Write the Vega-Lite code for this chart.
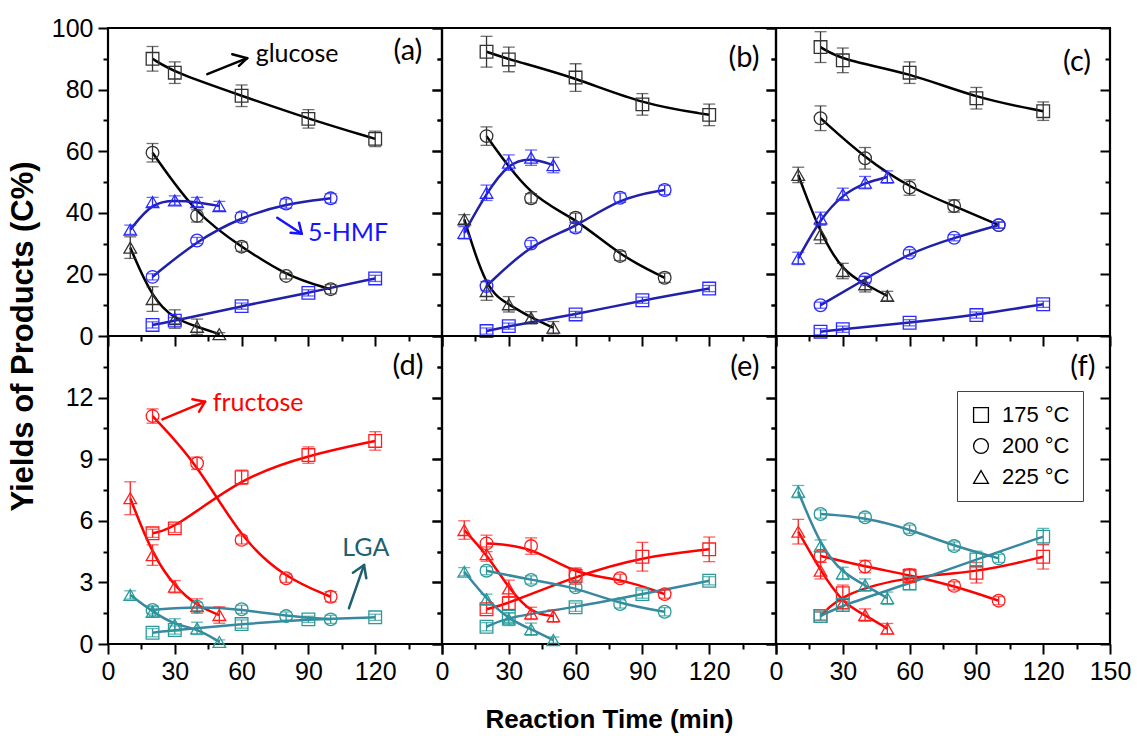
{
 "$schema": "https://vega.github.io/schema/vega-lite/v6.json",
 "padding": {"left": 6, "top": 14, "right": 5, "bottom": 5},
 "background": "white",
 "datasets": {
  "pts": [
   {"p":"a","s":"glucose","t":175,"x":20,"y":90,"e":4},{"p":"a","s":"glucose","t":175,"x":30,"y":85.5,"e":3.5},{"p":"a","s":"glucose","t":175,"x":60,"y":78,"e":3.5},{"p":"a","s":"glucose","t":175,"x":90,"y":70.5,"e":3},{"p":"a","s":"glucose","t":175,"x":120,"y":64,"e":2.5},
   {"p":"a","s":"glucose","t":200,"x":20,"y":59.5,"e":3},{"p":"a","s":"glucose","t":200,"x":40,"y":39,"e":2},{"p":"a","s":"glucose","t":200,"x":60,"y":29,"e":1.5},{"p":"a","s":"glucose","t":200,"x":80,"y":19.5,"e":1},{"p":"a","s":"glucose","t":200,"x":100,"y":15.2,"e":1.5},
   {"p":"a","s":"glucose","t":225,"x":10,"y":28.7,"e":3.5},{"p":"a","s":"glucose","t":225,"x":20,"y":12,"e":4},{"p":"a","s":"glucose","t":225,"x":30,"y":5.5,"e":3},{"p":"a","s":"glucose","t":225,"x":40,"y":3,"e":2.5},{"p":"a","s":"glucose","t":225,"x":50,"y":0.6,"e":0.5},
   {"p":"a","s":"HMF","t":225,"x":10,"y":34.5,"e":1.5},{"p":"a","s":"HMF","t":225,"x":20,"y":43.5,"e":1.5},{"p":"a","s":"HMF","t":225,"x":30,"y":44,"e":1.5},{"p":"a","s":"HMF","t":225,"x":40,"y":43.5,"e":1.5},{"p":"a","s":"HMF","t":225,"x":50,"y":42.2,"e":1.5},
   {"p":"a","s":"HMF","t":200,"x":20,"y":19.2,"e":1},{"p":"a","s":"HMF","t":200,"x":40,"y":31,"e":1},{"p":"a","s":"HMF","t":200,"x":60,"y":38.6,"e":1.5},{"p":"a","s":"HMF","t":200,"x":80,"y":43,"e":1.5},{"p":"a","s":"HMF","t":200,"x":100,"y":44.7,"e":1.5},
   {"p":"a","s":"HMF","t":175,"x":20,"y":3.6,"e":1},{"p":"a","s":"HMF","t":175,"x":30,"y":5,"e":1},{"p":"a","s":"HMF","t":175,"x":60,"y":9.7,"e":1},{"p":"a","s":"HMF","t":175,"x":90,"y":14,"e":1},{"p":"a","s":"HMF","t":175,"x":120,"y":18.7,"e":1},

   {"p":"b","s":"glucose","t":175,"x":20,"y":92.3,"e":5},{"p":"b","s":"glucose","t":175,"x":30,"y":89.8,"e":4},{"p":"b","s":"glucose","t":175,"x":60,"y":83.9,"e":4.5},{"p":"b","s":"glucose","t":175,"x":90,"y":75.2,"e":3.5},{"p":"b","s":"glucose","t":175,"x":120,"y":71.8,"e":3.5},
   {"p":"b","s":"glucose","t":200,"x":20,"y":64.9,"e":3},{"p":"b","s":"glucose","t":200,"x":40,"y":44.7,"e":1.5},{"p":"b","s":"glucose","t":200,"x":60,"y":38.4,"e":1.5},{"p":"b","s":"glucose","t":200,"x":80,"y":26,"e":1.5},{"p":"b","s":"glucose","t":200,"x":100,"y":18.9,"e":1.5},
   {"p":"b","s":"glucose","t":225,"x":10,"y":37.9,"e":1.5},{"p":"b","s":"glucose","t":225,"x":20,"y":14.6,"e":3},{"p":"b","s":"glucose","t":225,"x":30,"y":10.3,"e":2.5},{"p":"b","s":"glucose","t":225,"x":40,"y":5.9,"e":2},{"p":"b","s":"glucose","t":225,"x":50,"y":2.7,"e":2},
   {"p":"b","s":"HMF","t":225,"x":10,"y":33.5,"e":2},{"p":"b","s":"HMF","t":225,"x":20,"y":46.5,"e":2.5},{"p":"b","s":"HMF","t":225,"x":30,"y":56.3,"e":2.5},{"p":"b","s":"HMF","t":225,"x":40,"y":57.9,"e":2.5},{"p":"b","s":"HMF","t":225,"x":50,"y":55.5,"e":2.5},
   {"p":"b","s":"HMF","t":200,"x":20,"y":16.2,"e":1.5},{"p":"b","s":"HMF","t":200,"x":40,"y":30,"e":1},{"p":"b","s":"HMF","t":200,"x":60,"y":35.2,"e":1.5},{"p":"b","s":"HMF","t":200,"x":80,"y":44.9,"e":1.5},{"p":"b","s":"HMF","t":200,"x":100,"y":47.4,"e":1.5},
   {"p":"b","s":"HMF","t":175,"x":20,"y":1.6,"e":1},{"p":"b","s":"HMF","t":175,"x":30,"y":3.2,"e":1},{"p":"b","s":"HMF","t":175,"x":60,"y":7,"e":1},{"p":"b","s":"HMF","t":175,"x":90,"y":11.6,"e":1},{"p":"b","s":"HMF","t":175,"x":120,"y":15.4,"e":1},

   {"p":"c","s":"glucose","t":175,"x":20,"y":93.8,"e":5},{"p":"c","s":"glucose","t":175,"x":30,"y":89.5,"e":4},{"p":"c","s":"glucose","t":175,"x":60,"y":85.5,"e":3.5},{"p":"c","s":"glucose","t":175,"x":90,"y":77.2,"e":3.5},{"p":"c","s":"glucose","t":175,"x":120,"y":73,"e":3},
   {"p":"c","s":"glucose","t":200,"x":20,"y":70.7,"e":4},{"p":"c","s":"glucose","t":200,"x":40,"y":57.7,"e":3.5},{"p":"c","s":"glucose","t":200,"x":60,"y":48.2,"e":2.5},{"p":"c","s":"glucose","t":200,"x":80,"y":42.2,"e":2},{"p":"c","s":"glucose","t":200,"x":100,"y":36,"e":1},
   {"p":"c","s":"glucose","t":225,"x":10,"y":52.3,"e":2.5},{"p":"c","s":"glucose","t":225,"x":20,"y":33,"e":3},{"p":"c","s":"glucose","t":225,"x":30,"y":21.1,"e":2.5},{"p":"c","s":"glucose","t":225,"x":40,"y":16.8,"e":2.5},{"p":"c","s":"glucose","t":225,"x":50,"y":13,"e":1.5},
   {"p":"c","s":"HMF","t":225,"x":10,"y":25.2,"e":2},{"p":"c","s":"HMF","t":225,"x":20,"y":38.2,"e":2},{"p":"c","s":"HMF","t":225,"x":30,"y":46,"e":2},{"p":"c","s":"HMF","t":225,"x":40,"y":49.8,"e":2},{"p":"c","s":"HMF","t":225,"x":50,"y":51.6,"e":2},
   {"p":"c","s":"HMF","t":200,"x":20,"y":10,"e":1},{"p":"c","s":"HMF","t":200,"x":40,"y":18.4,"e":1},{"p":"c","s":"HMF","t":200,"x":60,"y":27,"e":1},{"p":"c","s":"HMF","t":200,"x":80,"y":31.9,"e":1},{"p":"c","s":"HMF","t":200,"x":100,"y":36,"e":1},
   {"p":"c","s":"HMF","t":175,"x":20,"y":1.4,"e":1},{"p":"c","s":"HMF","t":175,"x":30,"y":2.2,"e":1},{"p":"c","s":"HMF","t":175,"x":60,"y":4.3,"e":1},{"p":"c","s":"HMF","t":175,"x":90,"y":6.8,"e":1},{"p":"c","s":"HMF","t":175,"x":120,"y":10.3,"e":1},

   {"p":"d","s":"fructose","t":175,"x":20,"y":5.39,"e":0.2},{"p":"d","s":"fructose","t":175,"x":30,"y":5.63,"e":0.2},{"p":"d","s":"fructose","t":175,"x":60,"y":8.12,"e":0.35},{"p":"d","s":"fructose","t":175,"x":90,"y":9.2,"e":0.4},{"p":"d","s":"fructose","t":175,"x":120,"y":9.89,"e":0.45},
   {"p":"d","s":"fructose","t":200,"x":20,"y":11.1,"e":0.35},{"p":"d","s":"fructose","t":200,"x":40,"y":8.8,"e":0.3},{"p":"d","s":"fructose","t":200,"x":60,"y":5.07,"e":0.2},{"p":"d","s":"fructose","t":200,"x":80,"y":3.2,"e":0.2},{"p":"d","s":"fructose","t":200,"x":100,"y":2.3,"e":0.25},
   {"p":"d","s":"fructose","t":225,"x":10,"y":7.1,"e":0.8},{"p":"d","s":"fructose","t":225,"x":20,"y":4.33,"e":0.5},{"p":"d","s":"fructose","t":225,"x":30,"y":2.79,"e":0.3},{"p":"d","s":"fructose","t":225,"x":40,"y":1.85,"e":0.35},{"p":"d","s":"fructose","t":225,"x":50,"y":1.41,"e":0.4},
   {"p":"d","s":"LGA","t":175,"x":20,"y":0.55,"e":0.2},{"p":"d","s":"LGA","t":175,"x":30,"y":0.68,"e":0.2},{"p":"d","s":"LGA","t":175,"x":60,"y":0.97,"e":0.2},{"p":"d","s":"LGA","t":175,"x":90,"y":1.2,"e":0.15},{"p":"d","s":"LGA","t":175,"x":120,"y":1.3,"e":0.15},
   {"p":"d","s":"LGA","t":200,"x":20,"y":1.66,"e":0.2},{"p":"d","s":"LGA","t":200,"x":40,"y":1.82,"e":0.2},{"p":"d","s":"LGA","t":200,"x":60,"y":1.69,"e":0.2},{"p":"d","s":"LGA","t":200,"x":80,"y":1.36,"e":0.2},{"p":"d","s":"LGA","t":200,"x":100,"y":1.2,"e":0.2},
   {"p":"d","s":"LGA","t":225,"x":10,"y":2.39,"e":0.2},{"p":"d","s":"LGA","t":225,"x":20,"y":1.57,"e":0.25},{"p":"d","s":"LGA","t":225,"x":30,"y":0.93,"e":0.3},{"p":"d","s":"LGA","t":225,"x":40,"y":0.76,"e":0.3},{"p":"d","s":"LGA","t":225,"x":50,"y":0.1,"e":0.1},

   {"p":"e","s":"fructose","t":175,"x":20,"y":1.69,"e":0.2},{"p":"e","s":"fructose","t":175,"x":30,"y":1.98,"e":0.3},{"p":"e","s":"fructose","t":175,"x":60,"y":3.31,"e":0.4},{"p":"e","s":"fructose","t":175,"x":90,"y":4.25,"e":0.7},{"p":"e","s":"fructose","t":175,"x":120,"y":4.61,"e":0.6},
   {"p":"e","s":"fructose","t":200,"x":20,"y":4.9,"e":0.4},{"p":"e","s":"fructose","t":200,"x":40,"y":4.77,"e":0.4},{"p":"e","s":"fructose","t":200,"x":60,"y":3.36,"e":0.3},{"p":"e","s":"fructose","t":200,"x":80,"y":3.2,"e":0.2},{"p":"e","s":"fructose","t":200,"x":100,"y":2.43,"e":0.2},
   {"p":"e","s":"fructose","t":225,"x":10,"y":5.55,"e":0.45},{"p":"e","s":"fructose","t":225,"x":20,"y":4.38,"e":0.35},{"p":"e","s":"fructose","t":225,"x":30,"y":2.71,"e":0.4},{"p":"e","s":"fructose","t":225,"x":40,"y":1.49,"e":0.3},{"p":"e","s":"fructose","t":225,"x":50,"y":1.36,"e":0.3},
   {"p":"e","s":"LGA","t":175,"x":20,"y":0.84,"e":0.2},{"p":"e","s":"LGA","t":175,"x":30,"y":1.33,"e":0.2},{"p":"e","s":"LGA","t":175,"x":60,"y":1.79,"e":0.2},{"p":"e","s":"LGA","t":175,"x":90,"y":2.43,"e":0.2},{"p":"e","s":"LGA","t":175,"x":120,"y":3.08,"e":0.2},
   {"p":"e","s":"LGA","t":200,"x":20,"y":3.57,"e":0.2},{"p":"e","s":"LGA","t":200,"x":40,"y":3.12,"e":0.2},{"p":"e","s":"LGA","t":200,"x":60,"y":2.76,"e":0.2},{"p":"e","s":"LGA","t":200,"x":80,"y":1.95,"e":0.2},{"p":"e","s":"LGA","t":200,"x":100,"y":1.57,"e":0.2},
   {"p":"e","s":"LGA","t":225,"x":10,"y":3.52,"e":0.2},{"p":"e","s":"LGA","t":225,"x":20,"y":2.18,"e":0.25},{"p":"e","s":"LGA","t":225,"x":30,"y":1.2,"e":0.3},{"p":"e","s":"LGA","t":225,"x":40,"y":0.72,"e":0.3},{"p":"e","s":"LGA","t":225,"x":50,"y":0.19,"e":0.15},

   {"p":"f","s":"fructose","t":175,"x":20,"y":1.36,"e":0.2},{"p":"f","s":"fructose","t":175,"x":30,"y":2.47,"e":0.4},{"p":"f","s":"fructose","t":175,"x":60,"y":3.31,"e":0.3},{"p":"f","s":"fructose","t":175,"x":90,"y":3.47,"e":0.5},{"p":"f","s":"fructose","t":175,"x":120,"y":4.25,"e":0.6},
   {"p":"f","s":"fructose","t":200,"x":20,"y":4.29,"e":0.3},{"p":"f","s":"fructose","t":200,"x":40,"y":3.77,"e":0.3},{"p":"f","s":"fructose","t":200,"x":60,"y":3.36,"e":0.3},{"p":"f","s":"fructose","t":200,"x":80,"y":2.83,"e":0.2},{"p":"f","s":"fructose","t":200,"x":100,"y":2.11,"e":0.2},
   {"p":"f","s":"fructose","t":225,"x":10,"y":5.47,"e":0.6},{"p":"f","s":"fructose","t":225,"x":20,"y":3.57,"e":0.4},{"p":"f","s":"fructose","t":225,"x":30,"y":1.98,"e":0.25},{"p":"f","s":"fructose","t":225,"x":40,"y":1.41,"e":0.3},{"p":"f","s":"fructose","t":225,"x":50,"y":0.75,"e":0.25},
   {"p":"f","s":"LGA","t":175,"x":20,"y":1.36,"e":0.2},{"p":"f","s":"LGA","t":175,"x":30,"y":1.9,"e":0.3},{"p":"f","s":"LGA","t":175,"x":60,"y":2.95,"e":0.3},{"p":"f","s":"LGA","t":175,"x":90,"y":4.12,"e":0.4},{"p":"f","s":"LGA","t":175,"x":120,"y":5.23,"e":0.4},
   {"p":"f","s":"LGA","t":200,"x":20,"y":6.33,"e":0.2},{"p":"f","s":"LGA","t":200,"x":40,"y":6.17,"e":0.2},{"p":"f","s":"LGA","t":200,"x":60,"y":5.59,"e":0.2},{"p":"f","s":"LGA","t":200,"x":80,"y":4.77,"e":0.2},{"p":"f","s":"LGA","t":200,"x":100,"y":4.17,"e":0.2},
   {"p":"f","s":"LGA","t":225,"x":10,"y":7.42,"e":0.3},{"p":"f","s":"LGA","t":225,"x":20,"y":4.77,"e":0.3},{"p":"f","s":"LGA","t":225,"x":30,"y":3.44,"e":0.3},{"p":"f","s":"LGA","t":225,"x":40,"y":2.87,"e":0.3},{"p":"f","s":"LGA","t":225,"x":50,"y":2.23,"e":0.3}
  ],
  "notes": [
   {"p":"a","s":"label","x":134.7,"y":92.5,"label":"(a)"},
   {"p":"b","s":"label","x":135.6,"y":90.1,"label":"(b)"},
   {"p":"c","s":"label","x":135.2,"y":89,"label":"(c)"},
   {"p":"d","s":"label","x":134.7,"y":13.54,"label":"(d)"},
   {"p":"e","s":"label","x":136,"y":13.5,"label":"(e)"},
   {"p":"f","s":"label","x":137.8,"y":13.5,"label":"(f)"},
   {"p":"a","s":"glucose-note","x":84.9,"y":91.6,"label":"glucose"},
   {"p":"a","s":"HMF-note","x":107.8,"y":33.4,"label":"5-HMF"},
   {"p":"d","s":"fructose-note","x":67.4,"y":11.74,"label":"fructose"},
   {"p":"d","s":"LGA-note","x":115.8,"y":4.68,"label":"LGA"}
  ],
  "arrows": [
   {"p":"a","s":"glucose-note","x":44.6,"y":85,"x2":62.5,"y2":90.2},
   {"p":"a","s":"glucose-note","x":62.5,"y":90.2,"x2":55.8,"y2":91.5},
   {"p":"a","s":"glucose-note","x":62.5,"y":90.2,"x2":58.8,"y2":87.7},
   {"p":"a","s":"HMF-note","x":76,"y":38.4,"x2":87,"y2":33.2},
   {"p":"a","s":"HMF-note","x":87,"y":33.2,"x2":82,"y2":33.5},
   {"p":"a","s":"HMF-note","x":87,"y":33.2,"x2":85.8,"y2":36.8},
   {"p":"d","s":"fructose-note","x":24.4,"y":10.94,"x2":43.6,"y2":11.8},
   {"p":"d","s":"fructose-note","x":43.6,"y":11.8,"x2":37.9,"y2":11.92},
   {"p":"d","s":"fructose-note","x":43.6,"y":11.8,"x2":40.9,"y2":11.32},
   {"p":"d","s":"LGA-note","x":108.2,"y":1.74,"x2":115,"y2":3.85},
   {"p":"d","s":"LGA-note","x":115,"y":3.85,"x2":110,"y2":3.47},
   {"p":"d","s":"LGA-note","x":115,"y":3.85,"x2":116,"y2":3.2}
  ]
 },
 "columns": 3,
 "spacing": 0,
 "bounds": "flush",
 "concat": [
   {"width":334,"height":308,"resolve":{"axis":{"x":"independent","y":"independent"}},"layer":[
    {"data":{"name":"pts"},"transform":[{"filter":"datum.p=='a'"}],"mark":{"type":"line","interpolate":"basis","strokeWidth":2.5},
     "encoding":{"x":{"field":"x","type":"quantitative","scale":{"domain":[0,150],"nice":false},"axis":{"orient":"bottom","values":[15,45,75,105,135],"tickSize":5,"labels":false,"title":null}},
      "y":{"field":"y","type":"quantitative","scale":{"domain":[0,100],"nice":false},"axis":{"orient":"left","values":[10,30,50,70,90],"tickSize":5,"labels":false,"title":null}},
      "stroke":{"field":"s","type":"nominal","scale":{"domain":["glucose","HMF","fructose","LGA"],"range":["#000000","#2020a8","#ff0000","#3a88a0"]},"legend":null},
      "detail":{"field":"t","type":"nominal"}}},
    {"data":{"name":"pts"},"transform":[{"filter":"datum.p=='a'"}],"mark":{"type":"errorbar","ticks":true,"size":12,"thickness":1.3},
     "encoding":{"x":{"field":"x","type":"quantitative","axis":null},"y":{"field":"y","type":"quantitative","axis":{"orient":"right","values":[0,20,40,60,80,100],"tickSize":-10,"labels":false,"title":null}},"yError":{"field":"e"},
      "color":{"field":"s","type":"nominal","scale":{"domain":["glucose","HMF","fructose","LGA","glucose-note","HMF-note","fructose-note","LGA-note","label"],"range":["#333333","#2a2aff","#ff1f1f","#2a9a9a","#000000","#1515ff","#ff0000","#1f5f6f","#000000"]},"legend":null}}},
    {"data":{"name":"pts"},"transform":[{"filter":"datum.p=='a'"}],"mark":{"type":"point","filled":false,"size":160,"strokeWidth":1.3,"opacity":1},
     "encoding":{"x":{"field":"x","type":"quantitative","axis":{"orient":"bottom","values":[0,30,60,90,120,150],"tickSize":10,"labels":false,"title":null}},
      "y":{"field":"y","type":"quantitative","axis":{"orient":"left","values":[0,20,40,60,80,100],"tickSize":10,"labels":true,"title":"Yields of Products (C%)","titleFontSize":31,"titleAnchor":"start","titleAlign":"center","titlePadding":12}},
      "shape":{"field":"t","type":"nominal","scale":{"domain":[175,200,225],"range":["square","circle","triangle-up"]},"legend":{"orient":"none","legendX":849,"legendY":363,"title":null,"labelExpr":"datum.label + ' °C'"}},
      "color":{"field":"s","type":"nominal","scale":{"domain":["glucose","HMF","fructose","LGA","glucose-note","HMF-note","fructose-note","LGA-note","label"],"range":["#333333","#2a2aff","#ff1f1f","#2a9a9a","#000000","#1515ff","#ff0000","#1f5f6f","#000000"]},"legend":null}}},
    {"data":{"name":"notes"},"transform":[{"filter":"datum.p=='a' && datum.s=='label'"}],"mark":{"type":"text","font":"Lato","fontSize":29,"align":"center","baseline":"middle"},
     "encoding":{"x":{"field":"x","type":"quantitative","axis":null},"y":{"field":"y","type":"quantitative","axis":{"orient":"right","values":[10,30,50,70,90],"tickSize":-5,"labels":false,"title":null}},"text":{"field":"label"},
      "color":{"field":"s","type":"nominal","scale":{"domain":["glucose","HMF","fructose","LGA","glucose-note","HMF-note","fructose-note","LGA-note","label"],"range":["#333333","#2a2aff","#ff1f1f","#2a9a9a","#000000","#1515ff","#ff0000","#1f5f6f","#000000"]},"legend":null}}},
    {"data":{"name":"notes"},"transform":[{"filter":"datum.p=='a' && datum.s!='label'"}],"mark":{"type":"text","font":"Lato","fontSize":25,"align":"center","baseline":"middle"},
     "encoding":{"x":{"field":"x","type":"quantitative","axis":null},"y":{"field":"y","type":"quantitative","axis":null},"text":{"field":"label"},
      "color":{"field":"s","type":"nominal","scale":{"domain":["glucose","HMF","fructose","LGA","glucose-note","HMF-note","fructose-note","LGA-note","label"],"range":["#333333","#2a2aff","#ff1f1f","#2a9a9a","#000000","#1515ff","#ff0000","#1f5f6f","#000000"]},"legend":null}}},
    {"data":{"name":"arrows"},"transform":[{"filter":"datum.p=='a'"}],"mark":{"type":"rule","strokeWidth":2.5,"strokeCap":"round"},
     "encoding":{"x":{"field":"x","type":"quantitative","axis":null},"y":{"field":"y","type":"quantitative","axis":null},"x2":{"field":"x2"},"y2":{"field":"y2"},
      "color":{"field":"s","type":"nominal","scale":{"domain":["glucose","HMF","fructose","LGA","glucose-note","HMF-note","fructose-note","LGA-note","label"],"range":["#333333","#2a2aff","#ff1f1f","#2a9a9a","#000000","#1515ff","#ff0000","#1f5f6f","#000000"]},"legend":null}}}
   ]},
   {"width":334,"height":308,"resolve":{"axis":{"x":"independent","y":"independent"}},"layer":[
    {"data":{"name":"pts"},"transform":[{"filter":"datum.p=='b'"}],"mark":{"type":"line","interpolate":"basis","strokeWidth":2.5},
     "encoding":{"x":{"field":"x","type":"quantitative","scale":{"domain":[0,150],"nice":false},"axis":{"orient":"bottom","values":[15,45,75,105,135],"tickSize":5,"labels":false,"title":null}},
      "y":{"field":"y","type":"quantitative","scale":{"domain":[0,100],"nice":false},"axis":{"orient":"left","values":[10,30,50,70,90],"tickSize":5,"labels":false,"title":null}},
      "stroke":{"field":"s","type":"nominal","scale":{"domain":["glucose","HMF","fructose","LGA"],"range":["#000000","#2020a8","#ff0000","#3a88a0"]},"legend":null},
      "detail":{"field":"t","type":"nominal"}}},
    {"data":{"name":"pts"},"transform":[{"filter":"datum.p=='b'"}],"mark":{"type":"errorbar","ticks":true,"size":12,"thickness":1.3},
     "encoding":{"x":{"field":"x","type":"quantitative","axis":null},"y":{"field":"y","type":"quantitative","axis":{"orient":"right","values":[0,20,40,60,80,100],"tickSize":-10,"labels":false,"title":null}},"yError":{"field":"e"},
      "color":{"field":"s","type":"nominal","scale":{"domain":["glucose","HMF","fructose","LGA","glucose-note","HMF-note","fructose-note","LGA-note","label"],"range":["#333333","#2a2aff","#ff1f1f","#2a9a9a","#000000","#1515ff","#ff0000","#1f5f6f","#000000"]},"legend":null}}},
    {"data":{"name":"pts"},"transform":[{"filter":"datum.p=='b'"}],"mark":{"type":"point","filled":false,"size":160,"strokeWidth":1.3,"opacity":1},
     "encoding":{"x":{"field":"x","type":"quantitative","axis":{"orient":"bottom","values":[0,30,60,90,120,150],"tickSize":10,"labels":false,"title":null}},
      "y":{"field":"y","type":"quantitative","axis":{"orient":"left","values":[0,20,40,60,80,100],"tickSize":10,"labels":false,"title":null}},
      "shape":{"field":"t","type":"nominal","scale":{"domain":[175,200,225],"range":["square","circle","triangle-up"]},"legend":{"orient":"none","legendX":849,"legendY":363,"title":null,"labelExpr":"datum.label + ' °C'"}},
      "color":{"field":"s","type":"nominal","scale":{"domain":["glucose","HMF","fructose","LGA","glucose-note","HMF-note","fructose-note","LGA-note","label"],"range":["#333333","#2a2aff","#ff1f1f","#2a9a9a","#000000","#1515ff","#ff0000","#1f5f6f","#000000"]},"legend":null}}},
    {"data":{"name":"notes"},"transform":[{"filter":"datum.p=='b'"}],"mark":{"type":"text","font":"Lato","fontSize":29,"align":"center","baseline":"middle"},
     "encoding":{"x":{"field":"x","type":"quantitative","axis":null},"y":{"field":"y","type":"quantitative","axis":{"orient":"right","values":[10,30,50,70,90],"tickSize":-5,"labels":false,"title":null}},"text":{"field":"label"},
      "color":{"field":"s","type":"nominal","scale":{"domain":["glucose","HMF","fructose","LGA","glucose-note","HMF-note","fructose-note","LGA-note","label"],"range":["#333333","#2a2aff","#ff1f1f","#2a9a9a","#000000","#1515ff","#ff0000","#1f5f6f","#000000"]},"legend":null}}}
   ]},
   {"width":334,"height":308,"resolve":{"axis":{"x":"independent","y":"independent"}},"layer":[
    {"data":{"name":"pts"},"transform":[{"filter":"datum.p=='c'"}],"mark":{"type":"line","interpolate":"basis","strokeWidth":2.5},
     "encoding":{"x":{"field":"x","type":"quantitative","scale":{"domain":[0,150],"nice":false},"axis":{"orient":"bottom","values":[15,45,75,105,135],"tickSize":5,"labels":false,"title":null}},
      "y":{"field":"y","type":"quantitative","scale":{"domain":[0,100],"nice":false},"axis":{"orient":"left","values":[10,30,50,70,90],"tickSize":5,"labels":false,"title":null}},
      "stroke":{"field":"s","type":"nominal","scale":{"domain":["glucose","HMF","fructose","LGA"],"range":["#000000","#2020a8","#ff0000","#3a88a0"]},"legend":null},
      "detail":{"field":"t","type":"nominal"}}},
    {"data":{"name":"pts"},"transform":[{"filter":"datum.p=='c'"}],"mark":{"type":"errorbar","ticks":true,"size":12,"thickness":1.3},
     "encoding":{"x":{"field":"x","type":"quantitative","axis":null},"y":{"field":"y","type":"quantitative","axis":{"orient":"right","values":[0,20,40,60,80,100],"tickSize":-10,"labels":false,"title":null}},"yError":{"field":"e"},
      "color":{"field":"s","type":"nominal","scale":{"domain":["glucose","HMF","fructose","LGA","glucose-note","HMF-note","fructose-note","LGA-note","label"],"range":["#333333","#2a2aff","#ff1f1f","#2a9a9a","#000000","#1515ff","#ff0000","#1f5f6f","#000000"]},"legend":null}}},
    {"data":{"name":"pts"},"transform":[{"filter":"datum.p=='c'"}],"mark":{"type":"point","filled":false,"size":160,"strokeWidth":1.3,"opacity":1},
     "encoding":{"x":{"field":"x","type":"quantitative","axis":{"orient":"bottom","values":[0,30,60,90,120,150],"tickSize":10,"labels":false,"title":null}},
      "y":{"field":"y","type":"quantitative","axis":{"orient":"left","values":[0,20,40,60,80,100],"tickSize":10,"labels":false,"title":null}},
      "shape":{"field":"t","type":"nominal","scale":{"domain":[175,200,225],"range":["square","circle","triangle-up"]},"legend":{"orient":"none","legendX":849,"legendY":363,"title":null,"labelExpr":"datum.label + ' °C'"}},
      "color":{"field":"s","type":"nominal","scale":{"domain":["glucose","HMF","fructose","LGA","glucose-note","HMF-note","fructose-note","LGA-note","label"],"range":["#333333","#2a2aff","#ff1f1f","#2a9a9a","#000000","#1515ff","#ff0000","#1f5f6f","#000000"]},"legend":null}}},
    {"data":{"name":"notes"},"transform":[{"filter":"datum.p=='c'"}],"mark":{"type":"text","font":"Lato","fontSize":29,"align":"center","baseline":"middle"},
     "encoding":{"x":{"field":"x","type":"quantitative","axis":null},"y":{"field":"y","type":"quantitative","axis":{"orient":"right","values":[10,30,50,70,90],"tickSize":-5,"labels":false,"title":null}},"text":{"field":"label"},
      "color":{"field":"s","type":"nominal","scale":{"domain":["glucose","HMF","fructose","LGA","glucose-note","HMF-note","fructose-note","LGA-note","label"],"range":["#333333","#2a2aff","#ff1f1f","#2a9a9a","#000000","#1515ff","#ff0000","#1f5f6f","#000000"]},"legend":null}}}
   ]},
   {"width":334,"height":308,"resolve":{"axis":{"x":"independent","y":"independent"}},"layer":[
    {"data":{"name":"pts"},"transform":[{"filter":"datum.p=='d'"}],"mark":{"type":"line","interpolate":"basis","strokeWidth":2.5},
     "encoding":{"x":{"field":"x","type":"quantitative","scale":{"domain":[0,150],"nice":false},"axis":{"orient":"bottom","values":[15,45,75,105,135],"tickSize":5,"labels":false,"title":null}},
      "y":{"field":"y","type":"quantitative","scale":{"domain":[0,15],"nice":false},"axis":{"orient":"left","values":[1.5,4.5,7.5,10.5,13.5],"tickSize":5,"labels":false,"title":null}},
      "stroke":{"field":"s","type":"nominal","scale":{"domain":["glucose","HMF","fructose","LGA"],"range":["#000000","#2020a8","#ff0000","#3a88a0"]},"legend":null},
      "detail":{"field":"t","type":"nominal"}}},
    {"data":{"name":"pts"},"transform":[{"filter":"datum.p=='d'"}],"mark":{"type":"errorbar","ticks":true,"size":12,"thickness":1.3},
     "encoding":{"x":{"field":"x","type":"quantitative","axis":null},"y":{"field":"y","type":"quantitative","axis":{"orient":"right","values":[0,3,6,9,12],"tickSize":-10,"labels":false,"title":null}},"yError":{"field":"e"},
      "color":{"field":"s","type":"nominal","scale":{"domain":["glucose","HMF","fructose","LGA","glucose-note","HMF-note","fructose-note","LGA-note","label"],"range":["#333333","#2a2aff","#ff1f1f","#2a9a9a","#000000","#1515ff","#ff0000","#1f5f6f","#000000"]},"legend":null}}},
    {"data":{"name":"pts"},"transform":[{"filter":"datum.p=='d'"}],"mark":{"type":"point","filled":false,"size":160,"strokeWidth":1.3,"opacity":1},
     "encoding":{"x":{"field":"x","type":"quantitative","axis":{"orient":"bottom","values":[0,30,60,90,120,150],"tickSize":10,"labels":true,"labelExpr":"datum.value == 150 ? '' : datum.label","title":null}},
      "y":{"field":"y","type":"quantitative","axis":{"orient":"left","values":[0,3,6,9,12],"tickSize":10,"labels":true,"title":null}},
      "shape":{"field":"t","type":"nominal","scale":{"domain":[175,200,225],"range":["square","circle","triangle-up"]},"legend":{"orient":"none","legendX":849,"legendY":363,"title":null,"labelExpr":"datum.label + ' °C'"}},
      "color":{"field":"s","type":"nominal","scale":{"domain":["glucose","HMF","fructose","LGA","glucose-note","HMF-note","fructose-note","LGA-note","label"],"range":["#333333","#2a2aff","#ff1f1f","#2a9a9a","#000000","#1515ff","#ff0000","#1f5f6f","#000000"]},"legend":null}}},
    {"data":{"name":"notes"},"transform":[{"filter":"datum.p=='d' && datum.s=='label'"}],"mark":{"type":"text","font":"Lato","fontSize":29,"align":"center","baseline":"middle"},
     "encoding":{"x":{"field":"x","type":"quantitative","axis":null},"y":{"field":"y","type":"quantitative","axis":{"orient":"right","values":[1.5,4.5,7.5,10.5,13.5],"tickSize":-5,"labels":false,"title":null}},"text":{"field":"label"},
      "color":{"field":"s","type":"nominal","scale":{"domain":["glucose","HMF","fructose","LGA","glucose-note","HMF-note","fructose-note","LGA-note","label"],"range":["#333333","#2a2aff","#ff1f1f","#2a9a9a","#000000","#1515ff","#ff0000","#1f5f6f","#000000"]},"legend":null}}},
    {"data":{"name":"notes"},"transform":[{"filter":"datum.p=='d' && datum.s!='label'"}],"mark":{"type":"text","font":"Lato","fontSize":25,"align":"center","baseline":"middle"},
     "encoding":{"x":{"field":"x","type":"quantitative","axis":null},"y":{"field":"y","type":"quantitative","axis":null},"text":{"field":"label"},
      "color":{"field":"s","type":"nominal","scale":{"domain":["glucose","HMF","fructose","LGA","glucose-note","HMF-note","fructose-note","LGA-note","label"],"range":["#333333","#2a2aff","#ff1f1f","#2a9a9a","#000000","#1515ff","#ff0000","#1f5f6f","#000000"]},"legend":null}}},
    {"data":{"name":"arrows"},"transform":[{"filter":"datum.p=='d'"}],"mark":{"type":"rule","strokeWidth":2.5,"strokeCap":"round"},
     "encoding":{"x":{"field":"x","type":"quantitative","axis":null},"y":{"field":"y","type":"quantitative","axis":null},"x2":{"field":"x2"},"y2":{"field":"y2"},
      "color":{"field":"s","type":"nominal","scale":{"domain":["glucose","HMF","fructose","LGA","glucose-note","HMF-note","fructose-note","LGA-note","label"],"range":["#333333","#2a2aff","#ff1f1f","#2a9a9a","#000000","#1515ff","#ff0000","#1f5f6f","#000000"]},"legend":null}}}
   ]},
   {"width":334,"height":308,"resolve":{"axis":{"x":"independent","y":"independent"}},"layer":[
    {"data":{"name":"pts"},"transform":[{"filter":"datum.p=='e'"}],"mark":{"type":"line","interpolate":"basis","strokeWidth":2.5},
     "encoding":{"x":{"field":"x","type":"quantitative","scale":{"domain":[0,150],"nice":false},"axis":{"orient":"bottom","values":[15,45,75,105,135],"tickSize":5,"labels":false,"title":null}},
      "y":{"field":"y","type":"quantitative","scale":{"domain":[0,15],"nice":false},"axis":{"orient":"left","values":[1.5,4.5,7.5,10.5,13.5],"tickSize":5,"labels":false,"title":null}},
      "stroke":{"field":"s","type":"nominal","scale":{"domain":["glucose","HMF","fructose","LGA"],"range":["#000000","#2020a8","#ff0000","#3a88a0"]},"legend":null},
      "detail":{"field":"t","type":"nominal"}}},
    {"data":{"name":"pts"},"transform":[{"filter":"datum.p=='e'"}],"mark":{"type":"errorbar","ticks":true,"size":12,"thickness":1.3},
     "encoding":{"x":{"field":"x","type":"quantitative","axis":null},"y":{"field":"y","type":"quantitative","axis":{"orient":"right","values":[0,3,6,9,12],"tickSize":-10,"labels":false,"title":null}},"yError":{"field":"e"},
      "color":{"field":"s","type":"nominal","scale":{"domain":["glucose","HMF","fructose","LGA","glucose-note","HMF-note","fructose-note","LGA-note","label"],"range":["#333333","#2a2aff","#ff1f1f","#2a9a9a","#000000","#1515ff","#ff0000","#1f5f6f","#000000"]},"legend":null}}},
    {"data":{"name":"pts"},"transform":[{"filter":"datum.p=='e'"}],"mark":{"type":"point","filled":false,"size":160,"strokeWidth":1.3,"opacity":1},
     "encoding":{"x":{"field":"x","type":"quantitative","axis":{"orient":"bottom","values":[0,30,60,90,120,150],"tickSize":10,"labels":true,"labelExpr":"datum.value == 150 ? '' : datum.label","title":"Reaction Time (min)","titlePadding":22}},
      "y":{"field":"y","type":"quantitative","axis":{"orient":"left","values":[0,3,6,9,12],"tickSize":10,"labels":false,"title":null}},
      "shape":{"field":"t","type":"nominal","scale":{"domain":[175,200,225],"range":["square","circle","triangle-up"]},"legend":{"orient":"none","legendX":849,"legendY":363,"title":null,"labelExpr":"datum.label + ' °C'"}},
      "color":{"field":"s","type":"nominal","scale":{"domain":["glucose","HMF","fructose","LGA","glucose-note","HMF-note","fructose-note","LGA-note","label"],"range":["#333333","#2a2aff","#ff1f1f","#2a9a9a","#000000","#1515ff","#ff0000","#1f5f6f","#000000"]},"legend":null}}},
    {"data":{"name":"notes"},"transform":[{"filter":"datum.p=='e'"}],"mark":{"type":"text","font":"Lato","fontSize":29,"align":"center","baseline":"middle"},
     "encoding":{"x":{"field":"x","type":"quantitative","axis":null},"y":{"field":"y","type":"quantitative","axis":{"orient":"right","values":[1.5,4.5,7.5,10.5,13.5],"tickSize":-5,"labels":false,"title":null}},"text":{"field":"label"},
      "color":{"field":"s","type":"nominal","scale":{"domain":["glucose","HMF","fructose","LGA","glucose-note","HMF-note","fructose-note","LGA-note","label"],"range":["#333333","#2a2aff","#ff1f1f","#2a9a9a","#000000","#1515ff","#ff0000","#1f5f6f","#000000"]},"legend":null}}}
   ]},
   {"width":334,"height":308,"resolve":{"axis":{"x":"independent","y":"independent"}},"layer":[
    {"data":{"name":"pts"},"transform":[{"filter":"datum.p=='f'"}],"mark":{"type":"line","interpolate":"basis","strokeWidth":2.5},
     "encoding":{"x":{"field":"x","type":"quantitative","scale":{"domain":[0,150],"nice":false},"axis":{"orient":"bottom","values":[15,45,75,105,135],"tickSize":5,"labels":false,"title":null}},
      "y":{"field":"y","type":"quantitative","scale":{"domain":[0,15],"nice":false},"axis":{"orient":"left","values":[1.5,4.5,7.5,10.5,13.5],"tickSize":5,"labels":false,"title":null}},
      "stroke":{"field":"s","type":"nominal","scale":{"domain":["glucose","HMF","fructose","LGA"],"range":["#000000","#2020a8","#ff0000","#3a88a0"]},"legend":null},
      "detail":{"field":"t","type":"nominal"}}},
    {"data":{"name":"pts"},"transform":[{"filter":"datum.p=='f'"}],"mark":{"type":"errorbar","ticks":true,"size":12,"thickness":1.3},
     "encoding":{"x":{"field":"x","type":"quantitative","axis":null},"y":{"field":"y","type":"quantitative","axis":{"orient":"right","values":[0,3,6,9,12],"tickSize":-10,"labels":false,"title":null}},"yError":{"field":"e"},
      "color":{"field":"s","type":"nominal","scale":{"domain":["glucose","HMF","fructose","LGA","glucose-note","HMF-note","fructose-note","LGA-note","label"],"range":["#333333","#2a2aff","#ff1f1f","#2a9a9a","#000000","#1515ff","#ff0000","#1f5f6f","#000000"]},"legend":null}}},
    {"data":{"name":"pts"},"transform":[{"filter":"datum.p=='f'"}],"mark":{"type":"point","filled":false,"size":160,"strokeWidth":1.3,"opacity":1},
     "encoding":{"x":{"field":"x","type":"quantitative","axis":{"orient":"bottom","values":[0,30,60,90,120,150],"tickSize":10,"labels":true,"title":null}},
      "y":{"field":"y","type":"quantitative","axis":{"orient":"left","values":[0,3,6,9,12],"tickSize":10,"labels":false,"title":null}},
      "shape":{"field":"t","type":"nominal","scale":{"domain":[175,200,225],"range":["square","circle","triangle-up"]},"legend":{"orient":"none","legendX":849,"legendY":363,"title":null,"labelExpr":"datum.label + ' °C'"}},
      "color":{"field":"s","type":"nominal","scale":{"domain":["glucose","HMF","fructose","LGA","glucose-note","HMF-note","fructose-note","LGA-note","label"],"range":["#333333","#2a2aff","#ff1f1f","#2a9a9a","#000000","#1515ff","#ff0000","#1f5f6f","#000000"]},"legend":null}}},
    {"data":{"name":"notes"},"transform":[{"filter":"datum.p=='f'"}],"mark":{"type":"text","font":"Lato","fontSize":29,"align":"center","baseline":"middle"},
     "encoding":{"x":{"field":"x","type":"quantitative","axis":null},"y":{"field":"y","type":"quantitative","axis":{"orient":"right","values":[1.5,4.5,7.5,10.5,13.5],"tickSize":-5,"labels":false,"title":null}},"text":{"field":"label"},
      "color":{"field":"s","type":"nominal","scale":{"domain":["glucose","HMF","fructose","LGA","glucose-note","HMF-note","fructose-note","LGA-note","label"],"range":["#333333","#2a2aff","#ff1f1f","#2a9a9a","#000000","#1515ff","#ff0000","#1f5f6f","#000000"]},"legend":null}}}
   ]}
 ],
 "config": {
  "view": {"stroke": "black", "strokeWidth": 2.2},
  "axis": {"domain": false, "grid": false, "tickColor": "black", "tickWidth": 2, "labelFont": "Liberation Sans", "labelFontSize": 25, "labelColor": "black", "labelPadding": 5, "labelFlush": false, "labelOverlap": false, "titleFont": "Liberation Sans", "titleFontSize": 26, "titleFontWeight": "bold", "titleColor": "black"},
  "legend": {"strokeColor": "#444444", "padding": 13, "fillColor": "white", "symbolStrokeColor": "black", "symbolStrokeWidth": 1.3, "symbolSize": 220, "symbolFillColor": "transparent", "labelFont": "Liberation Sans", "labelFontSize": 22, "labelColor": "black", "labelOffset": 10, "rowPadding": 9}
 }
}
